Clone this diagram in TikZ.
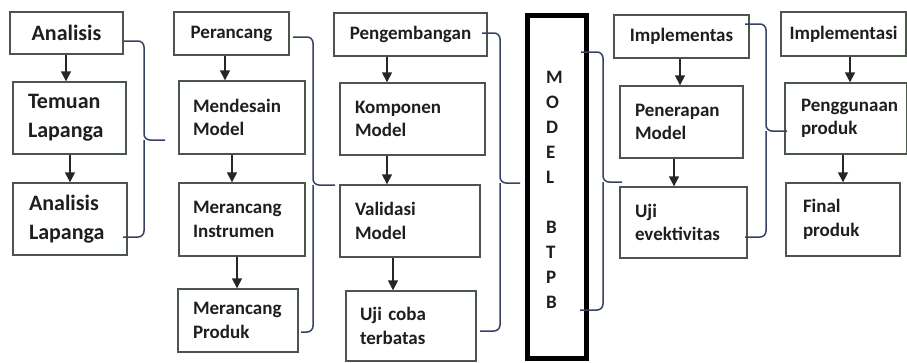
\documentclass[tikz,border=0pt]{standalone}
\usepackage{fontspec}
\setmainfont{Carlito}
\usetikzlibrary{arrows.meta}
\definecolor{boxc}{RGB}{75,85,75}
\definecolor{brc}{RGB}{55,65,100}
\definecolor{txt}{RGB}{30,30,30}
\begin{document}
\begin{tikzpicture}[x=1pt,y=-1pt,
  bx/.style={draw=boxc, line width=1.4pt, inner ysep=0pt, inner xsep=0pt, text=txt,
    font=\bfseries\fontsize{19}{23.5}\selectfont},
  bigf/.style={font=\bfseries\fontsize{22}{29}\selectfont},
  lbox/.style n args={3}{bx, align=left, inner xsep=#1, text width=#2, minimum height=#3},
  cbox/.style n args={2}{bx, align=center, minimum width=#1, minimum height=#2},
  arr/.style={-{Triangle[width=10pt,length=10pt]}, line width=1.6pt, draw=black!85},
  br/.style={draw=brc, line width=1.5pt, rounded corners=6pt},
  modelbox/.style={draw=black, line width=5pt, minimum width=59, minimum height=342.5, inner sep=0pt}]
\useasboundingbox (0,0) rectangle (907,362);

% column 1
\node[cbox={113}{42}, bigf] (an) at (66.5,33) {Analisis};
\node[lbox={15pt}{83pt}{72}, bigf] (tl) at (69.5,118) {Temuan\\Lapanga};
\node[lbox={16pt}{82pt}{72}, bigf] (al) at (70,219) {Analisis\\Lapanga};
% column 2
\node[cbox={115}{43}] (pr) at (231.5,33.5) {Perancang};
\node[lbox={14pt}{98pt}{73}] (md) at (242,117.5) {Mendesain\\Model};
\node[lbox={14pt}{98pt}{73}] (mi) at (242,219.5) {Merancang\\Instrumen};
\node[lbox={15pt}{90pt}{63}] (mp) at (238,320.5) {Merancang\\Produk};
% column 3
\node[cbox={153}{43}] (pg) at (410.5,34.5) {Pengembangan};
\node[lbox={15pt}{115pt}{72}] (km) at (412.5,119) {Komponen\\Model};
\node[lbox={15pt}{110pt}{72}] (vm) at (410,221) {Validasi\\Model};
\node[lbox={14pt}{102pt}{70}] (uc) at (411,326) {Uji coba\\terbatas};
% model
\node[modelbox] (mb) at (557,186.75) {};
\node[inner sep=0pt, align=left, text=txt, font=\bfseries\fontsize{19}{25}\selectfont] (lt) at (554.5,189.5)
  {M\\O\\D\\E\\L\\[25pt]B\\T\\P\\B};
% column 4
\node[cbox={135}{43}] (im) at (681.5,36.5) {Implementas};
\node[lbox={15pt}{93pt}{72}] (pm) at (681.5,122) {Penerapan\\Model};
\node[lbox={15pt}{97pt}{71}] (ue) at (683.5,222.5) {Uji\\evektivitas};
% column 5
\node[cbox={125}{44}] (is) at (843.5,34) {Implementasi};
\node[lbox={16pt}{90pt}{71}] (pp) at (846,118.5) {Penggunaan\\produk};
\node[lbox={17pt}{80pt}{73}] (fp) at (843,219.5) {Final\\produk};

% arrow x positions
\coordinate (x1) at (66,0);  \coordinate (x2) at (70,0);
\coordinate (x3) at (225,0); \coordinate (x4) at (232,0); \coordinate (x5) at (237,0);
\coordinate (x6) at (387,0); \coordinate (x7) at (393,0);
\coordinate (x8) at (680,0); \coordinate (x9) at (674,0);
\coordinate (x10) at (850,0); \coordinate (x11) at (843,0);

\draw[arr] (an.south -| x1) -- (tl.north -| x1);
\draw[arr] (tl.south -| x2) -- (al.north -| x2);
\draw[arr] (pr.south -| x3) -- (md.north -| x3);
\draw[arr] (md.south -| x4) -- (mi.north -| x4);
\draw[arr] (mi.south -| x5) -- (mp.north -| x5);
\draw[arr] (pg.south -| x6) -- (km.north -| x6);
\draw[arr] (km.south -| x6) -- (vm.north -| x6);
\draw[arr] (vm.south -| x7) -- (uc.north -| x7);
\draw[arr] (im.south -| x8) -- (pm.north -| x8);
\draw[arr] (pm.south -| x9) -- (ue.north -| x9);
\draw[arr] (is.south -| x10) -- (pp.north -| x10);
\draw[arr] (pp.south -| x11) -- (fp.north -| x11);

% braces
\coordinate (b1s) at (124,41);  \coordinate (b1t) at (165,140); \coordinate (b1e) at (123,237);
\coordinate (b2s) at (293,37);  \coordinate (b2t) at (335,185); \coordinate (b2e) at (301,332);
\coordinate (b3s) at (482,33);  \coordinate (b3t) at (520,183); \coordinate (b3e) at (480,331);
\coordinate (b4s) at (581,52);  \coordinate (b4t) at (622,182); \coordinate (b4e) at (580,310);
\coordinate (b5s) at (745,24);  \coordinate (b5t) at (787,131); \coordinate (b5e) at (745,237);

\draw[br] (b1s) -| (144,140) -- (b1t);  \draw[br] (b1e) -| (144,140);
\draw[br] (b2s) -| (313,185) -- (b2t);  \draw[br] (b2e) -| (313,185);
\draw[br] (b3s) -| (500,183) -- (b3t);  \draw[br] (b3e) -| (500,183);
\draw[br] (b4s) -| (603,182) -- (b4t);  \draw[br] (b4e) -| (603,182);
\draw[br] (b5s) -| (766,131) -- (b5t);  \draw[br] (b5e) -| (766,131);
\end{tikzpicture}
\end{document}
